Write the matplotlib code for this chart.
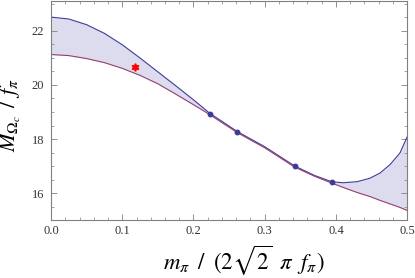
import numpy as np
import matplotlib
matplotlib.use('Agg')
import matplotlib.pyplot as plt
from matplotlib.ticker import MultipleLocator, FormatStrFormatter

# values
x = [0, 0.025, 0.05, 0.075, 0.1, 0.125, 0.15, 0.175, 0.2, 0.223, 0.2615, 0.3,
     0.342, 0.37, 0.394, 0.41, 0.43, 0.448, 0.462, 0.476, 0.49, 0.5]
upper = [22.50, 22.43, 22.22, 21.90, 21.48, 20.99, 20.48, 19.97, 19.45, 18.95, 18.28, 17.72,
         17.01, 16.66, 16.43, 16.39, 16.43, 16.56, 16.75, 17.06, 17.49, 18.08]
lower = [21.12, 21.08, 20.97, 20.82, 20.61, 20.35, 20.04, 19.66, 19.27, 18.90, 18.24, 17.68,
         16.97, 16.63, 16.38, 16.22, 16.03, 15.88, 15.74, 15.61, 15.48, 15.37]
lat_x = [0.223, 0.2615, 0.342, 0.394]
lat_y = [18.93, 18.27, 16.99, 16.41]
phys_x = [0.118]
phys_y = [20.66]

plt.rcParams['font.family'] = ['Liberation Serif', 'DejaVu Serif']
plt.rcParams['mathtext.fontset'] = 'stix'

blue = '#3d3d99'
purple = '#993d71'
grey = '#808080'

fig = plt.figure(figsize=(4.15, 2.78), dpi=100)
ax = fig.add_axes([0.123, 0.207, 0.858, 0.79])

ax.fill_between(x, lower, upper, color='#dcdcee', lw=0)
ax.plot(x, upper, color=blue, lw=0.8)
ax.plot(x, lower, color=purple, lw=0.8)
ax.plot(lat_x, lat_y, 'o', color=blue, ms=3.2)
ax.plot(phys_x, phys_y, marker=(6, 1, 0), color='red', ms=5.5, ls='none')

ax.set_xlim(0, 0.5)
ax.set_ylim(15, 23.1)
ax.xaxis.set_major_locator(MultipleLocator(0.1))
ax.xaxis.set_minor_locator(MultipleLocator(0.02))
ax.yaxis.set_major_locator(MultipleLocator(2))
ax.yaxis.set_minor_locator(MultipleLocator(0.5))
ax.xaxis.set_major_formatter(FormatStrFormatter('%.1f'))
ax.tick_params(which='both', direction='in', top=True, right=True,
               color=grey, labelsize=9, labelcolor='#333333')
ax.tick_params(which='major', length=4, width=0.6)
ax.tick_params(which='minor', length=2, width=0.5)
ax.tick_params(axis='x', pad=3)
ax.tick_params(axis='y', pad=5)
for s in ax.spines.values():
    s.set_color(grey)
    s.set_linewidth(0.8)

ax.set_xlabel(r'$m_\pi\;\;/\;\;(2\sqrt{2}\;\;\pi\;\;f_\pi)$', fontsize=16.5)
ax.xaxis.set_label_coords(0.54, -0.108)
ax.set_ylabel(r'$M_{\Omega_c}\;\,/\;\,f_\pi$', fontsize=16)
ax.yaxis.set_label_coords(-0.08, 0.483)

plt.savefig('out.png', dpi=100)
